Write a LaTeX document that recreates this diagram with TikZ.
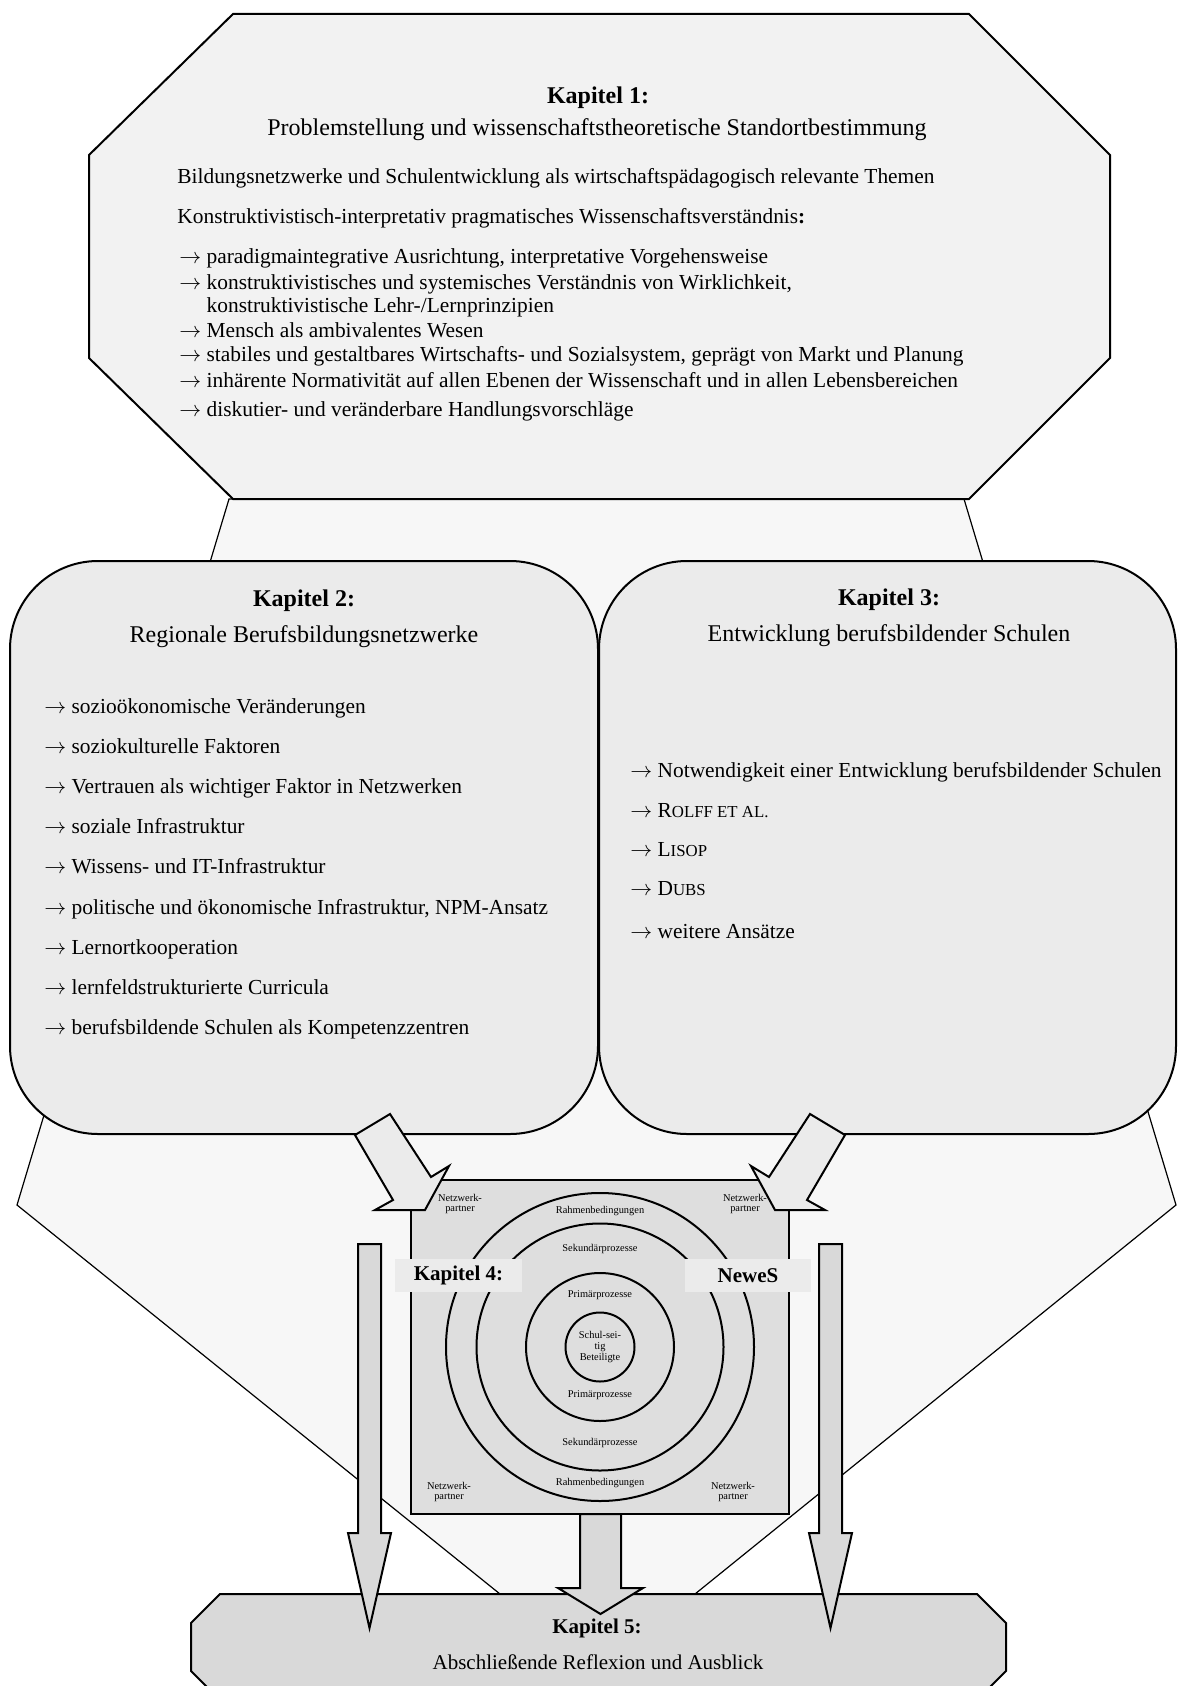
\documentclass[tikz,border=0pt]{standalone}
\usepackage{fontspec}
\setmainfont{Liberation Serif}
\usepackage{xcolor}
\usetikzlibrary{positioning}

\definecolor{funnelfill}{HTML}{F7F7F7}
\definecolor{octfill}{HTML}{F2F2F2}
\definecolor{boxfill}{HTML}{EBEBEB}
\definecolor{squarefill}{HTML}{DEDEDE}
\definecolor{endfill}{HTML}{D9D9D9}

\newcommand{\pfeil}{$\rightarrow$\ }
\newcommand{\fakesc}[2]{#1{\fontsize{8.4}{10}\selectfont #2}}

\tikzset{
  outline/.style={draw=black, line width=1pt, line join=miter},
  funnel/.style={draw=black, line width=0.6pt, fill=funnelfill},
  chaptitle/.style={font=\fontsize{12}{14}\selectfont\bfseries, inner sep=0pt},
  chapsub/.style={font=\fontsize{12}{14}\selectfont, inner sep=0pt},
  smalltitle/.style={font=\fontsize{10.5}{12.6}\selectfont\bfseries, inner sep=0pt},
  smallsub/.style={font=\fontsize{10.5}{12.6}\selectfont, inner sep=0pt},
  bodyline/.style={font=\fontsize{10.7}{12.8}\selectfont, inner sep=0pt, anchor=west,
    execute at begin node=\strut},
  tinylabel/.style={font=\fontsize{5.2}{5.4}\selectfont, inner sep=0pt, align=center},
  ring/.style={circle, draw=black, line width=1pt, inner sep=0pt},
  fatarrow/.style={outline, fill=boxfill},
  downarrow/.style={outline, fill=endfill},
}

\begin{document}
\begin{tikzpicture}[x=0.5pt, y=-0.5pt]
\useasboundingbox (0,0) rectangle (1178,1686);
\clip (0,0) rectangle (1178,1686);

% Hintergrund
\draw[funnel] (229,499) -- (17,1205) -- (500,1594) -- (695,1594) -- (1176,1205) -- (964,499) -- cycle;

% Kapitel 1
\draw[outline, fill=octfill] (233,14) -- (969,14) -- (1110,155) -- (1110,358)
  -- (969,499) -- (233,499) -- (89,358) -- (89,155) -- cycle;
\node[chaptitle] (k1title) at (598,98) {Kapitel 1:};
\node[chapsub] (k1sub) at (597,130) {Problemstellung und wissenschaftstheoretische Standortbestimmung};
\node[bodyline] (k1a) at (177,178) {Bildungsnetzwerke und Schulentwicklung als wirtschaftspädagogisch relevante Themen};
\node[bodyline] (k1b) at (177,218) {Konstruktivistisch-interpretativ pragmatisches Wissenschaftsverständnis\textbf{:}};
\node[bodyline] (k1c) at (179,258) {\pfeil paradigmaintegrative Ausrichtung, interpretative Vorgehensweise};
\node[bodyline, below=13pt of k1c.west, anchor=west] (k1d) {\pfeil konstruktivistisches und systemisches Verständnis von Wirklichkeit,};
\node[bodyline, below=11.5pt of k1d.west, anchor=west] (k1e) {\phantom{\pfeil}konstruktivistische Lehr-/Lernprinzipien};
\node[bodyline, below=12.5pt of k1e.west, anchor=west] (k1f) {\pfeil Mensch als ambivalentes Wesen};
\node[bodyline, below=12pt of k1f.west, anchor=west] (k1g) {\pfeil stabiles und gestaltbares Wirtschafts- und Sozialsystem, geprägt von Markt und Planung};
\node[bodyline, below=13pt of k1g.west, anchor=west] (k1h) {\pfeil inhärente Normativität auf allen Ebenen der Wissenschaft und in allen Lebensbereichen};
\node[bodyline, below=14.5pt of k1h.west, anchor=west] (k1i) {\pfeil diskutier- und veränderbare Handlungsvorschläge};

% Kapitel 2 und 3
\draw[outline, fill=boxfill, rounded corners=44pt] (10,561) rectangle (598,1134);
\draw[outline, fill=boxfill, rounded corners=44pt] (599,561) rectangle (1176,1134);

\node[chaptitle] (k2title) at (304,601) {Kapitel 2:};
\node[chapsub] (k2sub) at (304,637) {Regionale Berufsbildungsnetzwerke};
\node[bodyline] (k2a) at (44,708) {\pfeil sozioökonomische Veränderungen};
\node[bodyline, below=20.1pt of k2a.west, anchor=west] (k2b) {\pfeil soziokulturelle Faktoren};
\node[bodyline, below=20.1pt of k2b.west, anchor=west] (k2c) {\pfeil Vertrauen als wichtiger Faktor in Netzwerken};
\node[bodyline, below=20.1pt of k2c.west, anchor=west] (k2d) {\pfeil soziale Infrastruktur};
\node[bodyline, below=20.1pt of k2d.west, anchor=west] (k2e) {\pfeil Wissens- und IT-Infrastruktur};
\node[bodyline, below=20.1pt of k2e.west, anchor=west] (k2f) {\pfeil politische und ökonomische Infrastruktur, NPM-Ansatz};
\node[bodyline, below=20.1pt of k2f.west, anchor=west] (k2g) {\pfeil Lernortkooperation};
\node[bodyline, below=20.1pt of k2g.west, anchor=west] (k2h) {\pfeil lernfeldstrukturierte Curricula};
\node[bodyline, below=20.1pt of k2h.west, anchor=west] (k2i) {\pfeil berufsbildende Schulen als Kompetenzzentren};

\node[chaptitle] (k3title) at (889,600) {Kapitel 3:};
\node[chapsub] (k3sub) at (889,636) {Entwicklung berufsbildender Schulen};
\node[bodyline] (k3a) at (630,772) {\pfeil Notwendigkeit einer Entwicklung berufsbildender Schulen};
\node[bodyline, below=20pt of k3a.west, anchor=west] (k3b) {\pfeil \fakesc{R}{OLFF ET AL.}};
\node[bodyline, below=19.5pt of k3b.west, anchor=west] (k3c) {\pfeil \fakesc{L}{ISOP}};
\node[bodyline, below=19.5pt of k3c.west, anchor=west] (k3d) {\pfeil \fakesc{D}{UBS}};
\node[bodyline, below=21.5pt of k3d.west, anchor=west] (k3e) {\pfeil weitere Ansätze};

% Kapitel 4
\draw[outline, fill=squarefill] (411,1180) rectangle (789,1514);
\node[ring, minimum size=154pt] (ring1) at (600,1347) {};
\node[ring, minimum size=123.5pt] (ring2) at (600,1347) {};
\node[ring, minimum size=74pt] (ring3) at (600,1347) {};
\node[ring, minimum size=34.5pt] (ring4) at (600,1347) {};

\node[tinylabel] (rahmenA) at (600,1211) {Rahmenbedingungen};
\node[tinylabel] (sekA) at (600,1249) {Sekundärprozesse};
\node[tinylabel] (primA) at (600,1295) {Primärprozesse};
\node[tinylabel] (schul) at (600,1347) {Schul-sei-\\tig\\Beteiligte};
\node[tinylabel] (primB) at (600,1395) {Primärprozesse};
\node[tinylabel] (sekB) at (600,1443) {Sekundärprozesse};
\node[tinylabel] (rahmenB) at (600,1483) {Rahmenbedingungen};
\node[tinylabel] (partnerTL) at (460,1204) {Netzwerk-\\partner};
\node[tinylabel] (partnerTR) at (745,1204) {Netzwerk-\\partner};
\node[tinylabel] (partnerBL) at (449,1492) {Netzwerk-\\partner};
\node[tinylabel] (partnerBR) at (733,1492) {Netzwerk-\\partner};

\node[smalltitle, fill=boxfill, minimum width=63.5pt, minimum height=16.5pt] (k4title) at (458.5,1275.5) {Kapitel 4:};
\node[smalltitle, fill=boxfill, minimum width=63pt, minimum height=16.5pt] (newes) at (748,1275.5) {NeweS};

% Kapitel 5
\draw[outline, fill=endfill] (220,1594) -- (977,1594) -- (1006,1623) -- (1006,1671)
  -- (977,1700) -- (220,1700) -- (191,1671) -- (191,1623) -- cycle;
\node[smalltitle] (k5title) at (597,1628) {Kapitel 5:};
\node[smallsub] (k5sub) at (598,1662) {Abschließende Reflexion und Ausblick};

% Pfeile
\draw[fatarrow] (355,1135) -- (390,1114) -- (431,1177) -- (449,1166) -- (425,1210)
  -- (375,1210) -- (393,1200) -- cycle;
\draw[fatarrow] (845,1135) -- (810,1114) -- (769,1177) -- (751,1166) -- (775,1210)
  -- (825,1210) -- (807,1200) -- cycle;
\draw[downarrow] (358,1244) -- (381,1244) -- (381,1533) -- (391,1533) -- (369.5,1628)
  -- (348,1533) -- (358,1533) -- cycle;
\draw[downarrow] (819,1244) -- (842,1244) -- (842,1533) -- (852,1533) -- (830.5,1628)
  -- (809,1533) -- (819,1533) -- cycle;
\draw[downarrow] (580,1514) -- (621,1514) -- (621,1588) -- (643,1588) -- (600.5,1614)
  -- (558,1588) -- (580,1588) -- cycle;
\end{tikzpicture}
\end{document}
